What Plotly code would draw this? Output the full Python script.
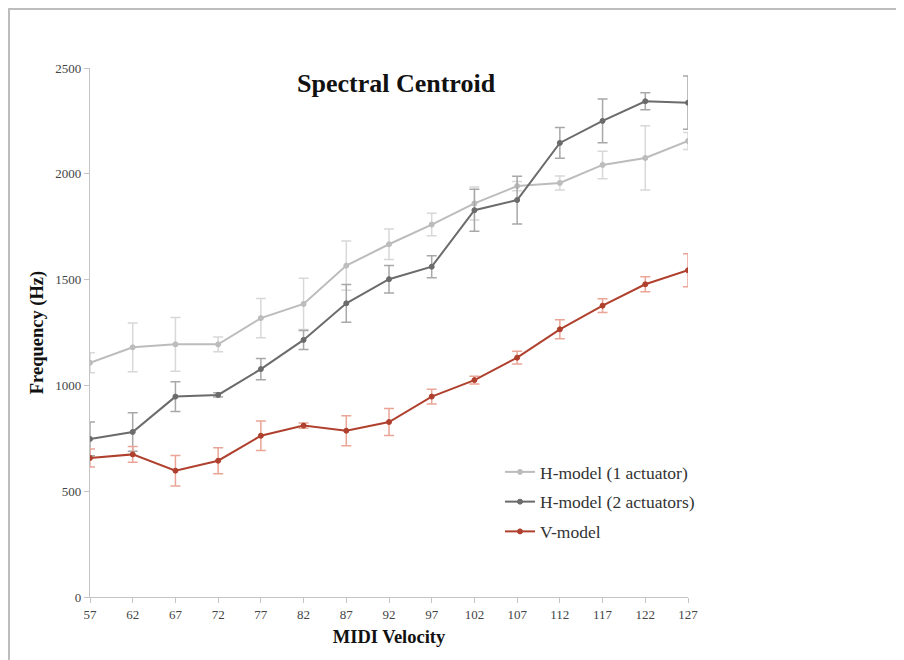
import plotly.graph_objects as go

velocity = [57, 62, 67, 72, 77, 82, 87, 92, 97, 102, 107, 112, 117, 122, 127]

h1_values = [1107, 1180, 1194, 1194, 1318, 1385, 1566, 1667, 1760, 1860, 1942, 1957, 2042, 2075, 2155]
h1_errors = [47, 115, 127, 35, 93, 121, 116, 72, 53, 78, 22, 33, 65, 152, 40]

h2_values = [747, 780, 947, 955, 1077, 1215, 1388, 1502, 1561, 1828, 1876, 2146, 2250, 2343, 2336]
h2_errors = [80, 91, 70, 10, 50, 45, 89, 65, 52, 99, 113, 73, 103, 40, 126]

v_values = [657, 674, 597, 644, 762, 810, 786, 827, 947, 1025, 1131, 1265, 1377, 1478, 1544]
v_errors = [43, 37, 72, 61, 70, 12, 71, 64, 35, 18, 30, 45, 32, 36, 78]

y_ticks = [0, 500, 1000, 1500, 2000, 2500]

FONT = "Liberation Serif"

# figure geometry (page has an 8px body margin)
W, H = 896, 652
ML, MT, PW, PH = 82, 60, 598, 529

fig = go.Figure()

series = [
    ("H-model (1 actuator)", h1_values, h1_errors, "#bcbcbc", "#d8d8d8"),
    ("H-model (2 actuators)", h2_values, h2_errors, "#6b6b6b", "#a8a8a8"),
    ("V-model", v_values, v_errors, "#b0402e", "#eaa596"),
]

for name, vals, errs, color, ecolor in series:
    fig.add_trace(go.Scatter(
        x=velocity, y=vals, name=name, legendgroup=name, mode="lines+markers",
        line=dict(color=color, width=2),
        marker=dict(size=5, color=color, line=dict(width=1, color=color)),
        error_y=dict(type="data", array=errs, visible=True,
                     color=ecolor, thickness=1.5, width=5),
    ))


def px_x(px):
    return (px - ML) / PW


def px_y(py):
    return (MT + PH - py) / PH


fig.update_layout(
    width=W, height=H,
    margin=dict(l=ML, r=W - ML - PW, t=MT, b=H - MT - PH),
    paper_bgcolor="white", plot_bgcolor="white",
    font=dict(family=FONT, color="#444", size=13),
    showlegend=True,
    legend=dict(x=px_x(492), y=px_y(446), xanchor="left", yanchor="top",
                font=dict(family=FONT, size=17.5, color="#333"),
                bgcolor="rgba(0,0,0,0)", tracegroupgap=4),
    annotations=[dict(text="<b>Spectral Centroid</b>",
                      x=px_x(388), y=px_y(75), xanchor="center", yanchor="middle",
                      xref="paper", yref="paper", showarrow=False,
                      font=dict(family=FONT, size=26, color="#111"))],
)

fig.update_xaxes(
    range=[57, 127], tickvals=velocity, ticktext=[str(v) for v in velocity],
    showline=True, linecolor="#c4c4c4", linewidth=1.2,
    ticks="outside", ticklen=5, tickcolor="#c4c4c4",
    showgrid=False, zeroline=False,
    tickfont=dict(family=FONT, size=13, color="#444"),
    title=dict(text="<b>MIDI Velocity</b>", standoff=9,
               font=dict(family=FONT, size=18.5, color="#111")),
)
fig.update_yaxes(
    range=[0, 2500], tickvals=y_ticks,
    showline=True, linecolor="#c4c4c4", linewidth=1.2,
    ticks="outside", ticklen=5, tickcolor="#c4c4c4",
    showgrid=False, zeroline=False,
    tickfont=dict(family=FONT, size=13, color="#444"),
    title=dict(text="<b>Frequency (Hz)</b>", standoff=6,
               font=dict(family=FONT, size=18.5, color="#111")),
)

# slide border lines (top and left)
fig.add_shape(type="line", xref="paper", yref="paper",
              x0=px_x(0), x1=px_x(W), y0=px_y(1), y1=px_y(1),
              line=dict(color="#bdbdbd", width=2))
fig.add_shape(type="line", xref="paper", yref="paper",
              x0=px_x(1), x1=px_x(1), y0=px_y(0), y1=px_y(H),
              line=dict(color="#bdbdbd", width=2))

fig.write_html("out.html")
